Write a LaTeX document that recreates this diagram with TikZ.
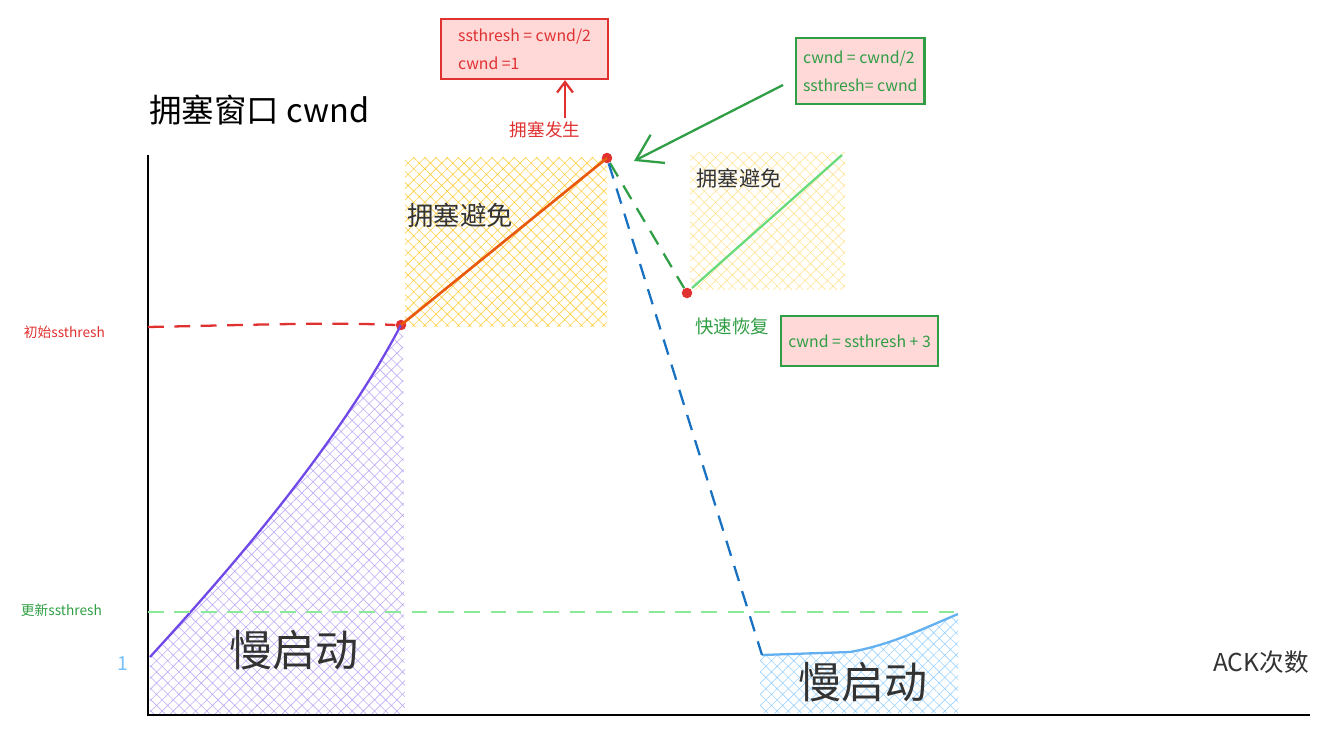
\documentclass[tikz,border=0pt]{standalone}
\usepackage{fontspec}
\setmainfont{Noto Sans CJK SC}
\usetikzlibrary{patterns.meta,arrows.meta}
\definecolor{cred}{HTML}{E03131}
\definecolor{cgreen}{HTML}{2F9E44}
\definecolor{lgreen}{HTML}{8CE99A}
\definecolor{mgreen}{HTML}{69DB7C}
\definecolor{cblue}{HTML}{1971C2}
\definecolor{lblue}{HTML}{74C0FC}
\definecolor{cpurple}{HTML}{7048E8}
\definecolor{corange}{HTML}{E8590C}
\definecolor{cyellow}{HTML}{FCC419}
\definecolor{pinkfill}{HTML}{FFD8D8}
\definecolor{ink}{HTML}{333333}
\tikzset{
  axis/.style={line width=1.6pt, black},
  note/.style={draw, line width=1.2pt, fill=pinkfill, align=left, inner sep=4pt, font=\fontsize{9}{16}\selectfont},
  lab/.style={font=\fontsize{7.8}{10}\selectfont, inner sep=1pt},
  dashln/.style={dash pattern=on 9pt off 6pt, line width=1.3pt},
  dot/.style={circle, fill=cred, inner sep=0pt, minimum size=6pt},
}
\begin{document}
\begin{tikzpicture}[x=0.02cm, y=-0.02cm]
\useasboundingbox (0,0) rectangle (1335,739);
% hatched areas
\fill[pattern={Hatch[angle=45,distance=4.5pt,line width=0.35pt]}, pattern color=cpurple!45]
  (150,657) .. controls (225,575) and (335,450) .. (403,325) -- (405,715) -- (150,715) -- cycle;
\fill[pattern={Hatch[angle=45,distance=4.5pt,line width=0.35pt]}, pattern color=cyellow!80]
  (405,158) rectangle (607,327);
\fill[pattern={Hatch[angle=45,distance=4.5pt,line width=0.35pt]}, pattern color=cyellow!45]
  (690,153) rectangle (845,290);
\fill[pattern={Hatch[angle=45,distance=4.5pt,line width=0.35pt]}, pattern color=lblue!70]
  (760,655) -- (850,652) .. controls (890,645) and (920,630) .. (958,614) -- (958,713) -- (760,713) -- cycle;
% axes
\coordinate (O) at (148,715);
\coordinate (Ytop) at (148,155);
\coordinate (Xend) at (1310,715);
\draw[axis] (Ytop) -- (O) -- (Xend);
% title
\node[font=\fontsize{18.5}{20}\selectfont, anchor=west] (title) at (143,110) {拥塞窗口 cwnd};
% key points
\coordinate (start) at (150,657);
\node[dot] (p1) at (401,325) {};
\node[dot] (p2) at (607,158) {};
\node[dot] (p3) at (687,293) {};
\coordinate (g1) at (692,288);
\coordinate (g2) at (842,155);
\coordinate (b1) at (762,655);
\coordinate (b2) at (958,614);
% curves
\draw[cpurple, line width=1.3pt] (start) .. controls (225,575) and (335,450) .. (p1.center);
\draw[corange, line width=1.5pt] (p1.center) -- (p2.center);
\draw[mgreen, line width=1.3pt] (g1) -- (g2);
\draw[lblue!80!cblue, line width=1.3pt] (b1) -- (850,652) .. controls (890,645) and (920,630) .. (b2);
% dashed lines
\coordinate (ssl) at (148,327);
\draw[cred, dashln] (ssl) .. controls (250,325) and (330,322) .. (p1.west);
\coordinate (nsl) at (148,612);
\coordinate (nsr) at (960,612);
\draw[lgreen, dashln] (nsl) -- (nsr);
\draw[cgreen, dashln] (p2) -- (p3);
\draw[cblue, dashln] (p2) -- (b1);
% labels on the axes
\node[lab, text=cred, anchor=east] (init) at (107,332) {初始ssthresh};
\node[lab, text=cgreen, anchor=east] (upd) at (104,610) {更新ssthresh};
\node[lab, text=lblue, font=\fontsize{11}{12}\selectfont] (one) at (123,664) {1};
\node[font=\fontsize{14}{15}\selectfont, text=ink] (ack) at (1261,662) {ACK次数};
% region labels
\node[font=\fontsize{24.5}{26}\selectfont, text=ink] (ss1) at (294,650) {慢启动};
\node[font=\fontsize{24.5}{26}\selectfont, text=ink] (ss2) at (863,682) {慢启动};
\node[font=\fontsize{15}{16}\selectfont, text=ink] (ca1) at (460,215) {拥塞避免};
\node[font=\fontsize{12}{13}\selectfont, text=ink] (ca2) at (739,178) {拥塞避免};
% notes
\node[note, draw=cred, text=cred, anchor=north west, minimum width=3.34cm, minimum height=1.2cm, inner xsep=6pt] (rbox) at (440,18) {ssthresh = cwnd/2\\cwnd =1};
\node[lab, text=cred, font=\fontsize{10}{11}\selectfont] (occur) at (545,130) {拥塞发生};
\coordinate (occtop) at (565,118);
\draw[cred, line width=1.3pt, -{Straight Barb[length=6pt,width=9pt]}] (occtop) -- (occtop |- rbox.south);
\node[note, draw=cgreen, text=cgreen, anchor=north west, minimum width=2.46cm, minimum height=1.32cm] (gbox) at (795,37) {cwnd = cwnd/2\\ssthresh= cwnd};
\coordinate (garr) at (783,85);
\draw[cgreen, line width=1.3pt, -{Straight Barb[length=14pt,width=18pt]}] (garr) -- (634,161);
\node[lab, text=cgreen, font=\fontsize{10.5}{12}\selectfont] (fast) at (732,327) {快速恢复};
\node[note, draw=cgreen, text=cgreen, anchor=west, inner sep=2pt, minimum height=1cm, minimum width=3.14cm, align=center] (fbox) at (780,341) {cwnd = ssthresh + 3};
\end{tikzpicture}
\end{document}
